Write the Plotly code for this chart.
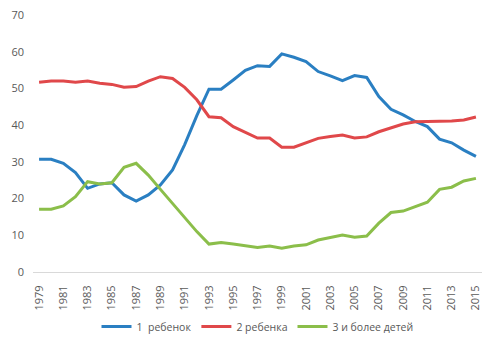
import plotly.graph_objects as go

years = list(range(1979, 2016))
one_child = [30.7, 30.7, 29.6, 27.1, 22.8, 24.0, 24.3, 21.0, 19.3, 21.0,
             23.7, 27.8, 34.7, 42.6, 49.8, 49.8, 52.3, 54.9, 56.2, 56.0,
             59.4, 58.5, 57.3, 54.6, 53.4, 52.1, 53.5, 53.0, 47.8, 44.3,
             42.8, 41.0, 39.6, 36.2, 35.2, 33.2, 31.5]
two_children = [51.7, 52.0, 52.0, 51.7, 52.0, 51.4, 51.1, 50.3, 50.5, 52.0,
                53.2, 52.7, 50.3, 46.9, 42.3, 42.0, 39.6, 38.0, 36.5, 36.5,
                34.0, 34.0, 35.2, 36.4, 36.9, 37.3, 36.5, 36.8, 38.2, 39.3,
                40.3, 40.9, 40.9, 41.1, 41.1, 41.4, 42.2]
three_plus = [17.1, 17.1, 18.0, 20.5, 24.6, 24.0, 24.3, 28.5, 29.6, 26.4,
              22.5, 18.7, 14.6, 11.0, 7.6, 8.0, 7.6, 7.1, 6.7, 7.1,
              6.5, 7.1, 7.4, 8.7, 9.3, 10.1, 9.5, 9.8, 13.3, 16.2,
              16.6, 17.8, 19.0, 22.5, 23.1, 24.8, 25.5]
names = ["1  ребенок", "2 ребенка", "3 и более детей"]
colors = ["#2A7FC2", "#E0484A", "#8BBE4A"]
tick_years = list(range(1979, 2016, 2))
y_ticks = [0, 10, 20, 30, 40, 50, 60, 70]

fig = go.Figure()
for name, vals, c in zip(names, [one_child, two_children, three_plus], colors):
    fig.add_trace(go.Scatter(x=years, y=vals, mode="lines", name=name,
                             line=dict(color=c, width=3)))

fam = "Open Sans, Segoe UI, sans-serif"
font = dict(family=fam, size=11, color="#595959")
fig.update_layout(
    width=496, height=344,
    margin=dict(l=33, r=14, t=15, b=72, autoexpand=False),
    paper_bgcolor="white", plot_bgcolor="white",
    font=font,
    showlegend=True,
    legend=dict(orientation="h", x=0.5, xanchor="center", y=-0.212, yanchor="middle",
                font=dict(family=fam, size=10.5, color="#595959"),
                itemwidth=30, traceorder="normal"),
    xaxis=dict(range=[1978.5, 2015.5], tickmode="array", tickvals=tick_years,
               ticktext=[str(y) for y in tick_years], tickangle=-90,
               tickfont=dict(family=fam, size=11, color="#595959"),
               showgrid=False, zeroline=False, showline=True, linecolor="#D9D9D9",
               linewidth=1, ticks="", ticklabelstandoff=8, fixedrange=True),
    yaxis=dict(range=[0, 70], tickmode="array", tickvals=y_ticks,
               tickfont=dict(family=fam, size=11, color="#595959"),
               showgrid=False, zeroline=False, showline=False, ticks="",
               ticklabelstandoff=8),
)
fig.write_html("out.html")
